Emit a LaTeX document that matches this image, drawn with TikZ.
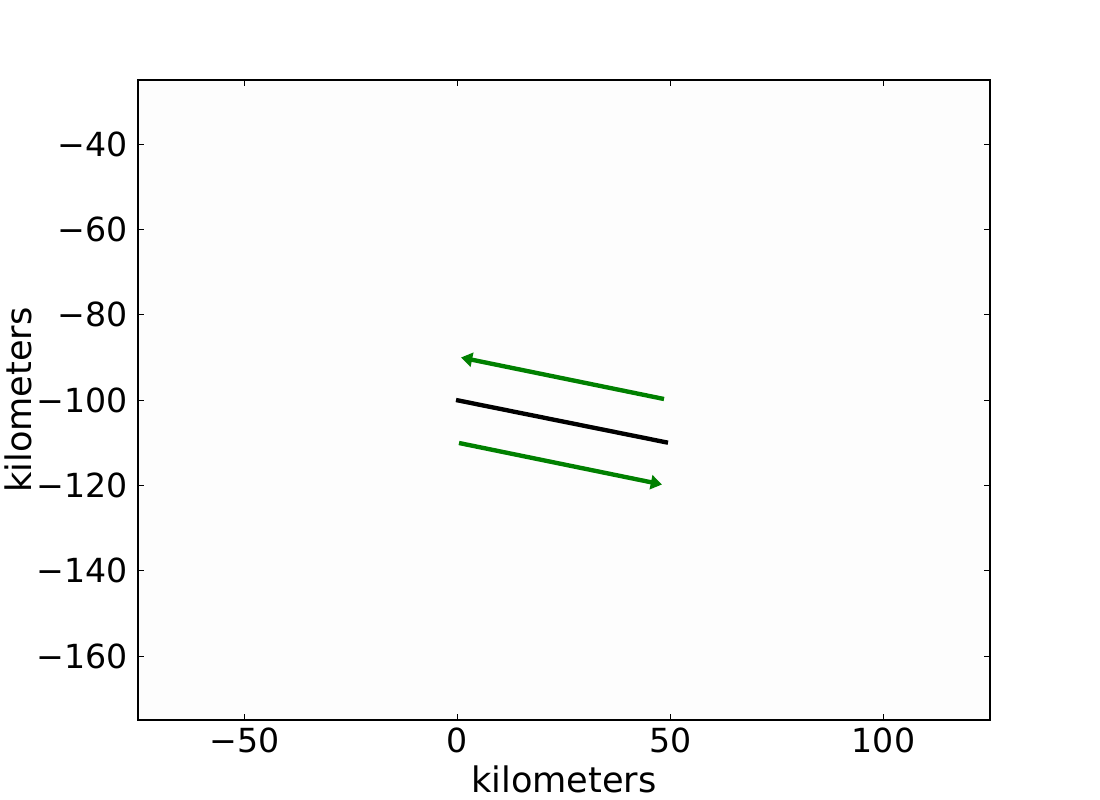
\documentclass[tikz,border=0pt]{standalone}
\usepackage{fontspec}
\setmainfont{DejaVu Sans}
\usetikzlibrary{arrows.meta}
\definecolor{mplgreen}{RGB}{0,128,0}
\tikzset{
  frame/.style={draw=black,line width=0.8pt},
  tickmark/.style={draw=black,line width=0.7pt},
  ticklab/.style={font=\fontsize{23.6}{28}\selectfont,inner sep=0pt},
  axlab/.style={font=\fontsize{25}{29}\selectfont,inner sep=0pt},
  faultline/.style={draw=black,line width=3.1pt},
  slipvec/.style={draw=mplgreen,line width=3.1pt,-{Triangle[length=8pt 0 0,width=10pt 0 0]}}
}
\begin{document}
\begin{tikzpicture}[x={(0.025cm,0)},y={(0,-0.025cm)}]
\useasboundingbox (0,0) rectangle (1100,800);
% axes box
\path[fill=white!99.4!black] (138,80) rectangle (990,720);
% ticks x
\foreach \xp/\lab in {244.5/−50,457.5/0,670.5/50,883.5/100}{
  \draw[tickmark] (\xp,720) -- (\xp,714);
  \draw[tickmark] (\xp,80) -- (\xp,86);
  \node[ticklab,anchor=north] (xt\xp) at (\xp,728) {\lab};
}
% ticks y
\foreach \yp/\lab in {144/−40,229.3/−60,314.7/−80,400/−100,485.3/−120,570.7/−140,656/−160}{
  \draw[tickmark] (138,\yp) -- (144,\yp);
  \draw[tickmark] (990,\yp) -- (984,\yp);
  \node[ticklab,anchor=east] (yt\yp) at (128,\yp) {\lab};
}
\draw[frame] (138,80) rectangle (990,720);
% axis labels
\node[axlab] (xlabel) at (564,779) {kilometers};
\node[axlab,rotate=90] (ylabel) at (18,400) {kilometers};
% fault and slip vectors
\coordinate (f1) at (456,400);
\coordinate (f2) at (668,442.7);
\coordinate (u1) at (664,399);
\coordinate (u2) at (461,357.5);
\coordinate (l1) at (459,443);
\coordinate (l2) at (662,484.5);
\draw[faultline] (f1) -- (f2);
\draw[slipvec] (u1) -- (u2);
\draw[slipvec] (l1) -- (l2);
\end{tikzpicture}
\end{document}
